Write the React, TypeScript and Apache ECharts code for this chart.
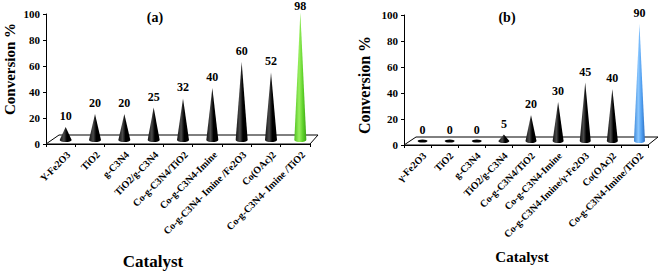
import React, { useEffect, useRef } from "react";
import * as echarts from "echarts";

const catsA = ["Y-Fe2O3", "TiO2", "g-C3N4", "TiO2/g-C3N4", "Co-g-C3N4/TiO2", "Co-g-C3N4-Imine", "Co-g-C3N4- Imine /Fe2O3", "Co(OAc)2", "Co-g-C3N4- Imine /TiO2"];
const valsA = [10, 20, 20, 25, 32, 40, 60, 52, 98];
const catsB = ["γ-Fe2O3", "TiO2", "g-C3N4", "TiO2/g-C3N4", "Co-g-C3N4/TiO2", "Co-g-C3N4-Imine", "Co-g-C3N4-Imine/γ-Fe2O3", "Co(OAc)2", "Co-g-C3N4-Imine/TiO2"];
const valsB = [0, 0, 0, 5, 20, 30, 45, 40, 90];
const yMin = 0;
const yMax = 100;
const yStep = 20;

const FONT = '"Liberation Serif", "Times New Roman", serif';

function coneFill(color: string) {
  if (color === "green") {
    return new echarts.graphic.LinearGradient(0, 0, 1, 0, [
      { offset: 0, color: "#4fc21f" },
      { offset: 0.4, color: "#9af060" },
      { offset: 0.7, color: "#5fd22a" },
      { offset: 1, color: "#3ca414" },
    ]);
  }
  if (color === "blue") {
    return new echarts.graphic.LinearGradient(0, 0, 1, 0, [
      { offset: 0, color: "#3a86d8" },
      { offset: 0.4, color: "#8cc8ff" },
      { offset: 0.7, color: "#4f9ef0" },
      { offset: 1, color: "#2f6fc0" },
    ]);
  }
  return new echarts.graphic.LinearGradient(0, 0, 1, 0, [
    { offset: 0, color: "#111" },
    { offset: 0.35, color: "#4a4a4a" },
    { offset: 0.6, color: "#000" },
    { offset: 1, color: "#000" },
  ]);
}

function makeCones(cats: string[], vals: number[], idx: number, hi: string, w: number, dx: number, lblDx: number) {
  return {
    type: "custom",
    xAxisIndex: idx,
    yAxisIndex: idx,
    z: 5,
    data: vals.map((v, i) => [i, v]),
    renderItem: (params: any, api: any) => {
      const i = api.value(0);
      const v = api.value(1);
      const p0 = api.coord([i, 0]);
      const p1 = api.coord([i, v]);
      const cx = p0[0] + dx;
      const by = p0[1] - 4;
      const ty = p1[1] - 4;
      const last = i === cats.length - 1;
      const children: any[] = [];
      if (v === 0) {
        children.push({ type: "ellipse", shape: { cx, cy: by, rx: w / 2 - 0.5, ry: 1.6 }, style: { fill: "#000" } });
      } else {
        const hw = w / 2;
        const d = `M${cx - hw},${by} L${cx},${ty} L${cx + hw},${by} A${hw},2 0 0 1 ${cx - hw},${by} Z`;
        children.push({ type: "path", shape: { pathData: d }, style: { fill: coneFill(last ? hi : "black") } });
      }
      children.push({
        type: "text",
        style: { text: String(v), x: cx, y: Math.max(ty - 5, 12), align: "center", verticalAlign: "bottom", font: `bold 12px ${FONT}`, fill: "#000" },
      });
      children.push({
        type: "text",
        x: p0[0] + lblDx,
        y: p0[1] + 9,
        rotation: Math.PI / 4,
        style: { text: cats[i], x: 0, y: 0, align: "right", verticalAlign: "middle", font: `bold 10px ${FONT}`, fill: "#000" },
      });
      return { type: "group", children };
    },
  };
}

function makeFloor(idx: number, n: number, depth: number, shiftL: number, shiftR: number) {
  return {
    type: "custom",
    xAxisIndex: idx,
    yAxisIndex: idx,
    z: 1,
    data: [[0, 0]],
    renderItem: (params: any, api: any) => {
      const c0 = api.coord([0, 0]);
      const bw = api.size([1, 0])[0];
      const left = c0[0] - bw / 2;
      const right = left + n * bw;
      const y = c0[1];
      return {
        type: "polygon",
        shape: { points: [[left, y], [left + shiftL, y - depth], [right + shiftR, y - depth], [right, y]] },
        style: { fill: "#fff", stroke: "#000", lineWidth: 1 },
      };
    },
  };
}

const yAxisBase = (idx: number) => ({
  type: "value",
  gridIndex: idx,
  min: yMin,
  max: yMax,
  interval: yStep,
  axisLine: { show: true, lineStyle: { color: "#000", width: 1 } },
  axisTick: { show: true, length: 3, lineStyle: { color: "#000" } },
  axisLabel: { color: "#000", fontWeight: "bold", fontSize: 11, fontFamily: FONT, margin: 6 },
  splitLine: { show: false },
});

const xAxisBase = (idx: number, cats: string[]) => ({
  type: "category",
  gridIndex: idx,
  data: cats,
  boundaryGap: true,
  axisLine: { show: true, lineStyle: { color: "#000", width: 1 } },
  axisTick: { show: true, interval: 0, length: 3, lineStyle: { color: "#000" } },
  axisLabel: { show: false },
});

export default function App() {
  const ref = useRef<HTMLDivElement>(null);
  useEffect(() => {
    if (!ref.current) return;
    const chart = echarts.init(ref.current, null, { renderer: "svg" });
    chart.setOption({
      animation: false,
      backgroundColor: "#fff",
      grid: [
        { left: 46, top: 14, width: 264, height: 130 },
        { left: 404, top: 15, width: 244, height: 130 },
      ],
      xAxis: [xAxisBase(0, catsA), xAxisBase(1, catsB)],
      yAxis: [yAxisBase(0), yAxisBase(1)],
      series: [
        makeFloor(0, catsA.length, 9, 13, 8),
        makeFloor(1, catsB.length, 8, 12, 10),
        makeCones(catsA, valsA, 0, "green", 12, 5, 8),
        makeCones(catsB, valsB, 1, "blue", 11, 5, 7),
      ],
      graphic: [
        { type: "text", x: 10, y: 69, rotation: Math.PI / 2, style: { text: "Conversion %", align: "center", verticalAlign: "middle", font: `bold 15px ${FONT}`, fill: "#000" } },
        { type: "text", x: 364, y: 85, rotation: Math.PI / 2, style: { text: "Conversion %", align: "center", verticalAlign: "middle", font: `bold 16px ${FONT}`, fill: "#000" } },
        { type: "text", x: 155, y: 17, style: { text: "(a)", align: "center", verticalAlign: "middle", font: `bold 14px ${FONT}`, fill: "#000" } },
        { type: "text", x: 507, y: 17, style: { text: "(b)", align: "center", verticalAlign: "middle", font: `bold 14px ${FONT}`, fill: "#000" } },
        { type: "text", x: 153, y: 261, style: { text: "Catalyst", align: "center", verticalAlign: "middle", font: `bold 17px ${FONT}`, fill: "#000" } },
        { type: "text", x: 522, y: 257, style: { text: "Catalyst", align: "center", verticalAlign: "middle", font: `bold 15px ${FONT}`, fill: "#000" } },
      ],
    });
    return () => chart.dispose();
  }, []);
  return <div ref={ref} style={{ position: "fixed", left: 0, top: 0, width: 661, height: 271 }} />;
}
